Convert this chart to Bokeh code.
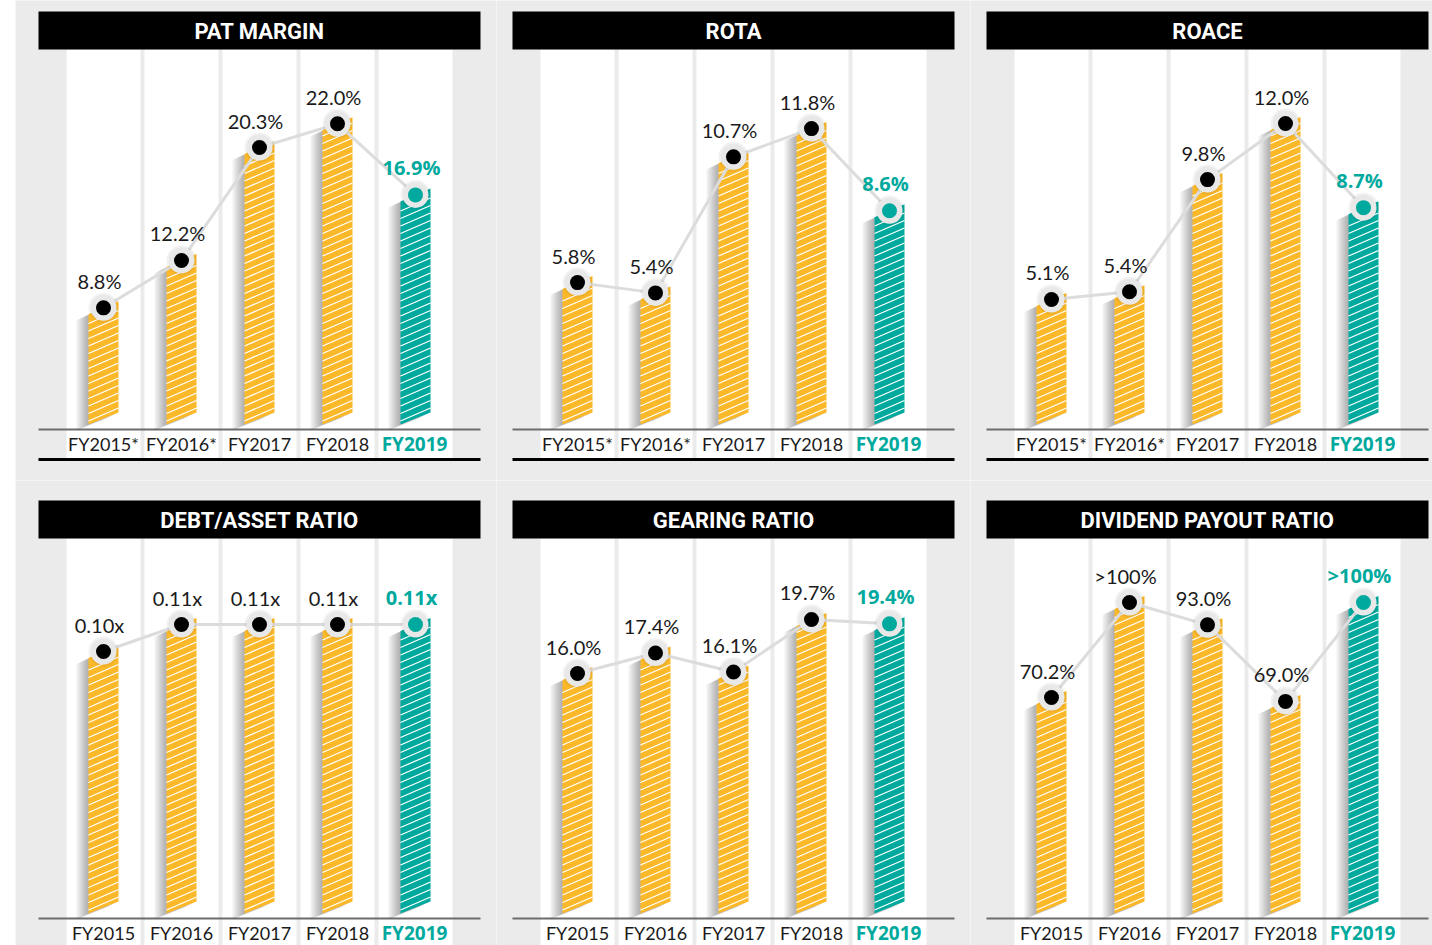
from bokeh.plotting import figure
from bokeh.models import Range1d, Spacer
from bokeh.layouts import row, column
from bokeh.core.properties import value
from bokeh.embed import file_html
from bokeh.resources import INLINE

# ---------------- data ----------------
years_top = ["FY2015*", "FY2016*", "FY2017", "FY2018", "FY2019"]
years_bottom = ["FY2015", "FY2016", "FY2017", "FY2018", "FY2019"]

pat_margin = [8.8, 12.2, 20.3, 22.0, 16.9]
pat_labels = ["8.8%", "12.2%", "20.3%", "22.0%", "16.9%"]

rota = [5.8, 5.4, 10.7, 11.8, 8.6]
rota_labels = ["5.8%", "5.4%", "10.7%", "11.8%", "8.6%"]

roace = [5.1, 5.4, 9.8, 12.0, 8.7]
roace_labels = ["5.1%", "5.4%", "9.8%", "12.0%", "8.7%"]

debt_asset = [0.10, 0.11, 0.11, 0.11, 0.11]
debt_asset_labels = ["0.10x", "0.11x", "0.11x", "0.11x", "0.11x"]

gearing = [16.0, 17.4, 16.1, 19.7, 19.4]
gearing_labels = ["16.0%", "17.4%", "16.1%", "19.7%", "19.4%"]

dividend_payout = [70.2, 100.0, 93.0, 69.0, 100.0]
dividend_labels = ["70.2%", ">100%", "93.0%", "69.0%", ">100%"]

# ---------------- styles ----------------
BG = "#ebebeb"
YELLOW = "#fbb829"
TEAL = "#00a99d"
FONT = value("Lato")
TITLE_FONT = value("Roboto")
BOLD_FONT = value("Open Sans")

FIG_L = [15, 496, 970]
FIG_W = [481, 474, 462]
FIG_T = [0, 480]
FIG_H = [480, 465]
PANEL_X = [38, 512, 986]
PANEL_Y = [11, 500]
PITCH = 78.0
TXT_SHIFT = 8  # svg text baseline correction (px)


def make_panel(title, cats, vals, labels, col, rw, zero_px, scale):
    L, W = FIG_L[col], FIG_W[col]
    T, H = FIG_T[rw], FIG_H[rw]
    px0, py0 = PANEL_X[col], PANEL_Y[rw]
    c0 = px0 + 65

    def X(px):
        return (px - c0) / PITCH

    def Y(py):
        return (zero_px - py) / scale

    p = figure(width=W, height=H, x_range=Range1d(X(L), X(L + W)),
               y_range=Range1d(Y(T + H), Y(T)), output_backend="svg",
               toolbar_location=None, x_axis_type=None, y_axis_type=None,
               min_border=0, title=None)
    p.outline_line_color = None
    p.background_fill_color = BG
    p.border_fill_color = BG

    idx = list(range(len(cats)))
    n = len(idx)

    # white column backgrounds
    p.quad(left=[i - 37 / PITCH for i in idx], right=[i + 37 / PITCH for i in idx],
           top=Y(py0 + 38), bottom=Y(py0 + 448), fill_color="white", line_color=None)

    # title bar
    p.quad(left=X(px0), right=X(px0 + 442), top=Y(py0), bottom=Y(py0 + 38),
           fill_color="black", line_color=None)
    p.text(x=[X(px0 + 221)], y=[Y(py0 + 28 - TXT_SHIFT)], text=[title], text_align="center",
           text_baseline="alphabetic", text_color="white", text_font=TITLE_FONT,
           text_font_style="bold", text_font_size=value("22px"))

    # axis line and bottom rule
    p.segment(x0=X(px0), x1=X(px0 + 442), y0=Y(py0 + 418), y1=Y(py0 + 418),
              line_color="#6d6d6d", line_width=2)
    p.segment(x0=X(px0), x1=X(px0 + 442), y0=Y(py0 + 448), y1=Y(py0 + 448),
              line_color="black", line_width=3)

    # category labels
    ly = Y(py0 + 440 - TXT_SHIFT)
    p.text(x=idx[:-1], y=[ly] * (n - 1), text=cats[:-1],
           text_align="center", text_baseline="alphabetic", text_color="#1a1a1a",
           text_font=FONT, text_font_size=value("18px"))
    p.text(x=idx[-1:], y=[ly], text=cats[-1:], x_offset=-1,
           text_align="center", text_baseline="alphabetic", text_color=TEAL,
           text_font=BOLD_FONT, text_font_style="bold", text_font_size=value("19px"))

    # bars (slanted parallelograms)
    hw = 15 / PITCH
    sl = 6.5 / scale
    bot = py0 + 407
    xs, ys = [], []
    for i, v in zip(idx, vals):
        xs.append([i - hw, i + hw, i + hw, i - hw])
        ys.append([v - sl, v + sl, Y(bot - 6), Y(bot + 6)])

    # soft shadow
    for d in (2, 4, 6, 8, 10, 12):
        sxs = [[x - d / PITCH for x in xx] for xx in xs]
        sys_ = [[y - (0.5 * d) / scale for y in yy] for yy in ys]
        p.patches(sxs, sys_, fill_color="black", fill_alpha=0.055, line_color=None)

    colors = [YELLOW] * (n - 1) + [TEAL]
    p.patches(xs, ys, fill_color=colors, line_color=None)

    # hatch lines parallel to bar edges
    hx0, hx1, hy0, hy1 = [], [], [], []
    for i, v in zip(idx, vals):
        vy = zero_px - v * scale
        yk = bot - 4
        while yk > vy + 5:
            hx0.append(i - hw)
            hx1.append(i + hw)
            hy0.append(Y(yk + 6.5))
            hy1.append(Y(yk - 6.5))
            yk -= 7.5
    p.segment(x0=hx0, x1=hx1, y0=hy0, y1=hy1, line_color="white", line_width=1.3)

    # connecting line and dots
    p.line(idx, vals, line_color="#dcdcdc", line_width=3)
    p.scatter(idx, vals, size=30, fill_color="black", fill_alpha=0.05, line_color=None)
    p.scatter(idx, vals, size=26, fill_color="#e8e8e8", line_color=None)
    p.scatter(idx[:-1], vals[:-1], size=15, fill_color="black", line_color=None)
    p.scatter(idx[-1:], vals[-1:], size=15, fill_color=TEAL, line_color=None)

    # value labels
    p.text(x=idx[:-1], y=vals[:-1], text=labels[:-1], x_offset=-4, y_offset=-19 - TXT_SHIFT,
           text_align="center", text_baseline="alphabetic", text_color="#1a1a1a",
           text_font=FONT, text_font_size=value("20px"))
    p.text(x=idx[-1:], y=vals[-1:], text=labels[-1:], x_offset=-4, y_offset=-19 - TXT_SHIFT,
           text_align="center", text_baseline="alphabetic", text_color=TEAL,
           text_font=BOLD_FONT, text_font_style="bold", text_font_size=value("20px"))
    return p


f1 = make_panel("PAT MARGIN", years_top, pat_margin, pat_labels, 0, 0, 430, 13.94)
f2 = make_panel("ROTA", years_top, rota, rota_labels, 1, 0, 431, 25.67)
f3 = make_panel("ROACE", years_top, roace, roace_labels, 2, 0, 429, 25.5)
f4 = make_panel("DEBT/ASSET RATIO", years_bottom, debt_asset, debt_asset_labels, 0, 1, 921, 2700.0)
f5 = make_panel("GEARING RATIO", years_bottom, gearing, gearing_labels, 1, 1, 906.6, 14.6)
f6 = make_panel("DIVIDEND PAYOUT RATIO", years_bottom, dividend_payout, dividend_labels, 2, 1, 921, 3.19)

layout = column(
    row(Spacer(width=15, height=480), f1, f2, f3),
    row(Spacer(width=15, height=465), f4, f5, f6),
)

open("out.html", "w").write(file_html(layout, INLINE))
